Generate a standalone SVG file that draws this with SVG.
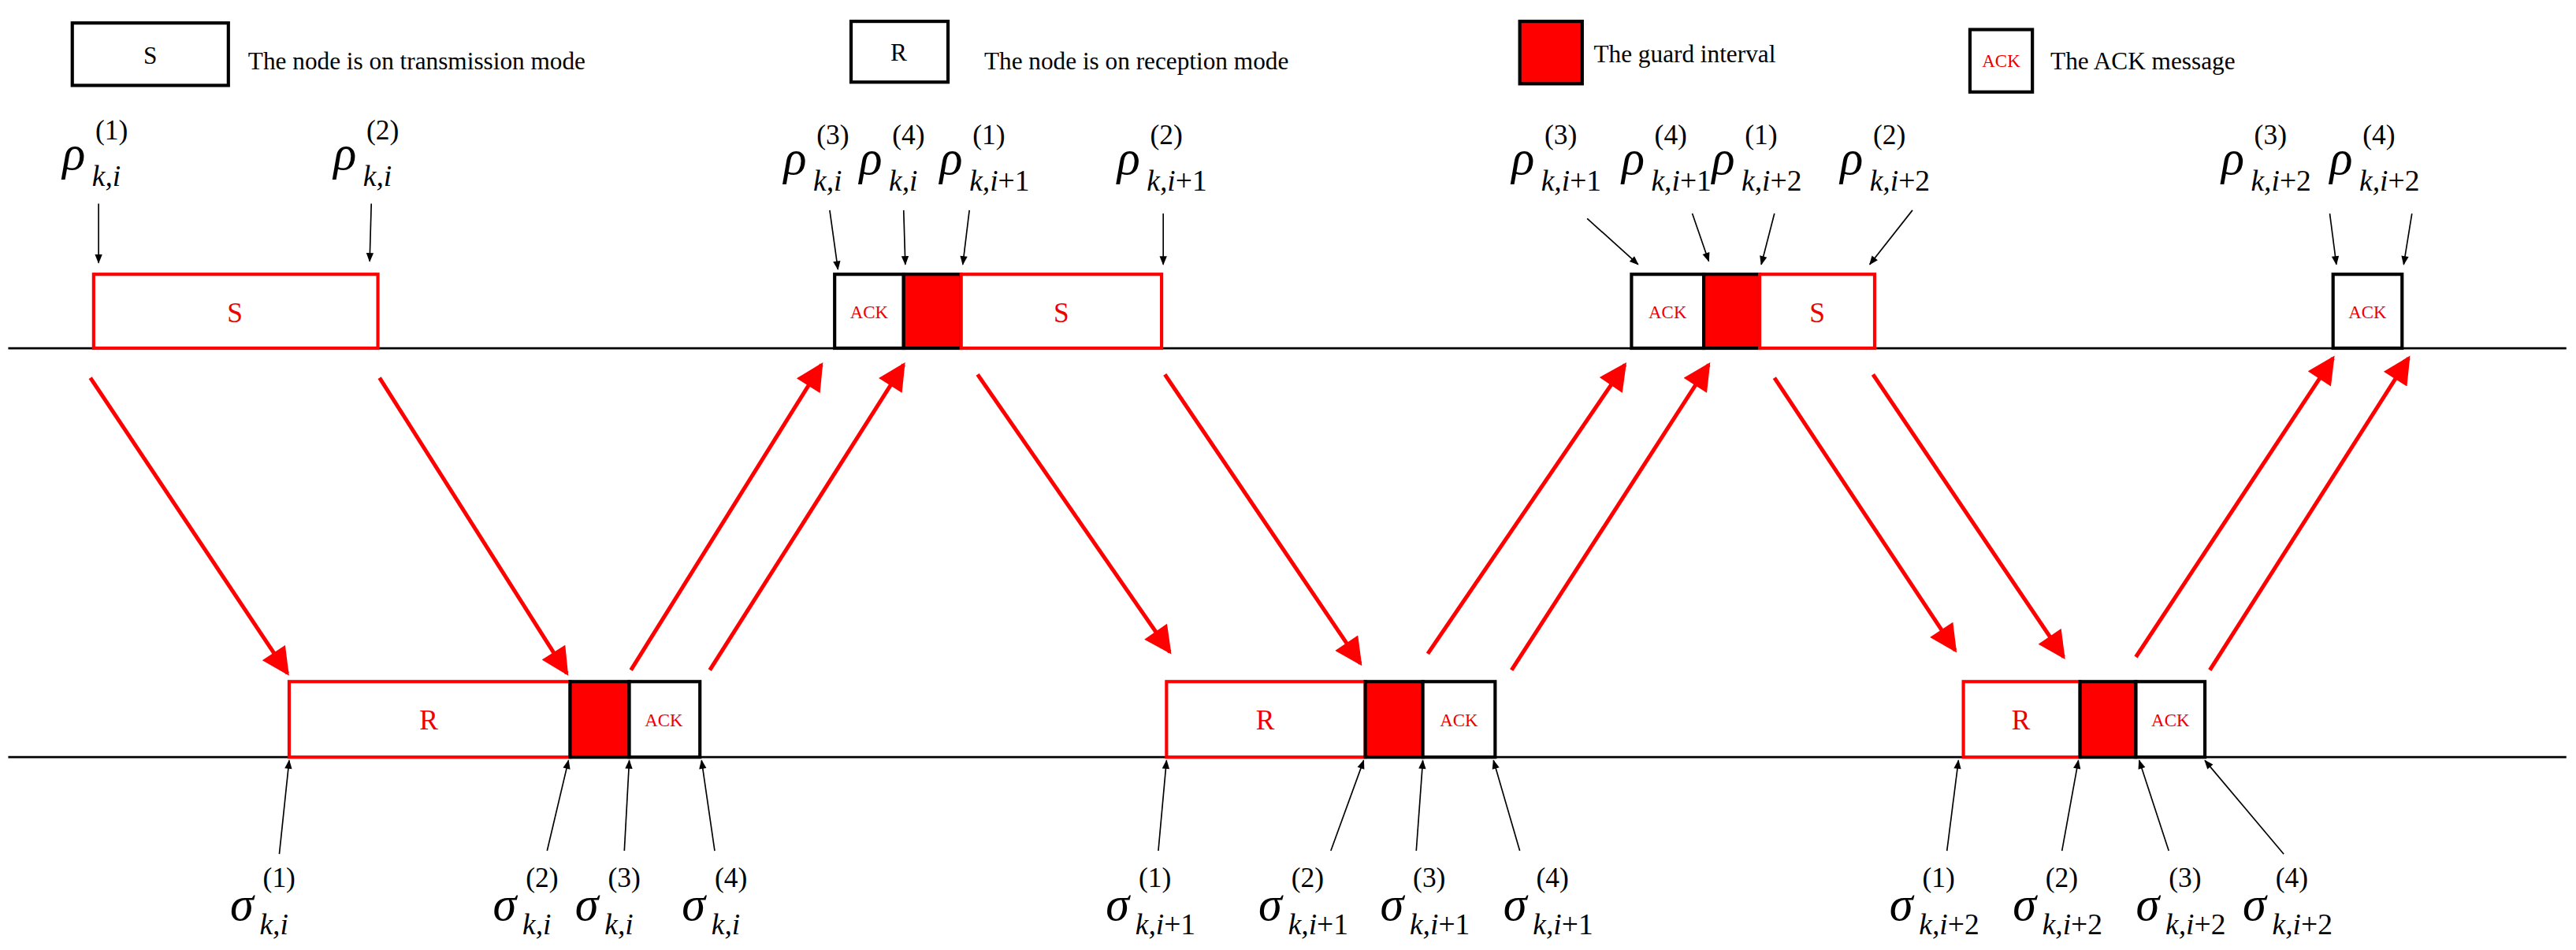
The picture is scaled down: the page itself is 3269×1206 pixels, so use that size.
<svg xmlns="http://www.w3.org/2000/svg" width="3269" height="1206" viewBox="0 0 3269 1206">
<style>
text{font-family:"Liberation Serif","Times New Roman",serif}
.lg{font-size:15px;fill:#000}
.bt{font-size:17px;fill:#e00;text-anchor:middle}
.ak{font-size:11px;fill:#e00;text-anchor:middle}
.gr{font-size:29px;font-style:italic}
.sp{font-size:17px}
.sb{font-size:18px;font-style:italic}
.n{font-style:normal}
.rb{fill:#fff;stroke:#f00;stroke-width:2}
.kb{fill:#fff;stroke:#000;stroke-width:2}
.gb{fill:#f00;stroke:#000;stroke-width:2}
.ra{stroke:#f00;stroke-width:2.4;fill:none;marker-end:url(#rh)}
.ka{stroke:#000;stroke-width:0.8;fill:none;marker-end:url(#kh)}
</style>
<defs>
<marker id="rh" viewBox="0 0 10 10" refX="9" refY="5" markerWidth="8" markerHeight="7" orient="auto" markerUnits="strokeWidth"><path d="M0,0 L10,5 L0,10 z" fill="#f00"/></marker>
<marker id="kh" viewBox="0 0 10 10" refX="9" refY="5" markerWidth="8" markerHeight="7" orient="auto" markerUnits="strokeWidth"><path d="M0,1 L10,5 L0,9 z" fill="#000"/></marker>
</defs>
<rect width="3269" height="1206" fill="#fff"/>
<g transform="scale(2.085)">
<g id="legend">
<rect class="kb" x="44" y="14" width="95" height="38"/><text class="lg" x="91.5" y="39" text-anchor="middle" font-size="17">S</text>
<text class="lg" x="151" y="42">The node is on transmission mode</text>
<rect class="kb" x="518" y="13" width="59" height="37"/><text class="lg" x="547" y="37" text-anchor="middle" font-size="17">R</text>
<text class="lg" x="599" y="42">The node is on reception mode</text>
<rect class="gb" x="925" y="13" width="38" height="38"/>
<text class="lg" x="970" y="38">The guard interval</text>
<rect class="kb" x="1199" y="18" width="38" height="38"/><text class="ak" x="1218" y="41" font-size="10">ACK</text>
<text class="lg" x="1248" y="42">The ACK  message</text>
</g>
<g id="timelines" stroke="#000" stroke-width="1.3">
<line x1="5" y1="212" x2="1562" y2="212"/>
<line x1="5" y1="461" x2="1562" y2="461"/>
</g>
<g id="top-blocks">
<rect class="rb" x="57" y="167" width="173" height="45"/><text class="bt" x="143" y="196">S</text>
<rect class="kb" x="508" y="167" width="42" height="45"/><text class="ak" x="529" y="194">ACK</text>
<rect class="gb" x="550" y="167" width="35" height="45"/>
<rect class="rb" x="585" y="167" width="122" height="45"/><text class="bt" x="646" y="196">S</text>
<rect class="kb" x="993" y="167" width="44" height="45"/><text class="ak" x="1015" y="194">ACK</text>
<rect class="gb" x="1037" y="167" width="34" height="45"/>
<rect class="rb" x="1071" y="167" width="70" height="45"/><text class="bt" x="1106" y="196">S</text>
<rect class="kb" x="1420" y="167" width="42" height="45"/><text class="ak" x="1441" y="194">ACK</text>
</g>
<g id="bottom-blocks">
<rect class="rb" x="176" y="415" width="171" height="46"/><text class="bt" x="261" y="444">R</text>
<rect class="gb" x="347" y="415" width="36" height="46"/>
<rect class="kb" x="383" y="415" width="43" height="46"/><text class="ak" x="404" y="442">ACK</text>
<rect class="rb" x="710" y="415" width="121" height="46"/><text class="bt" x="770" y="444">R</text>
<rect class="gb" x="831" y="415" width="35" height="46"/>
<rect class="kb" x="866" y="415" width="44" height="46"/><text class="ak" x="888" y="442">ACK</text>
<rect class="rb" x="1195" y="415" width="71" height="46"/><text class="bt" x="1230" y="444">R</text>
<rect class="gb" x="1266" y="415" width="34" height="46"/>
<rect class="kb" x="1300" y="415" width="42" height="46"/><text class="ak" x="1321" y="442">ACK</text>
</g>
<g id="connectors">
<line class="ra" x1="55" y1="230" x2="175" y2="410"/>
<line class="ra" x1="231" y1="230" x2="345" y2="410"/>
<line class="ra" x1="384" y1="408" x2="500" y2="222"/>
<line class="ra" x1="432" y1="408" x2="550" y2="222"/>
<line class="ra" x1="595" y1="228" x2="712" y2="397"/>
<line class="ra" x1="709" y1="228" x2="828" y2="404"/>
<line class="ra" x1="869" y1="398" x2="989" y2="222"/>
<line class="ra" x1="920" y1="408" x2="1040" y2="222"/>
<line class="ra" x1="1080" y1="230" x2="1190" y2="396"/>
<line class="ra" x1="1140" y1="228" x2="1256" y2="400"/>
<line class="ra" x1="1300" y1="400" x2="1420" y2="218"/>
<line class="ra" x1="1345" y1="408" x2="1466" y2="218"/>
<line class="ka" x1="60" y1="124" x2="60" y2="160"/>
<line class="ka" x1="226" y1="124" x2="225" y2="159"/>
<line class="ka" x1="505" y1="128" x2="510" y2="164"/>
<line class="ka" x1="550" y1="128" x2="551" y2="161"/>
<line class="ka" x1="590" y1="128" x2="586" y2="161"/>
<line class="ka" x1="708" y1="130" x2="708" y2="161"/>
<line class="ka" x1="966" y1="133" x2="997" y2="161"/>
<line class="ka" x1="1030" y1="130" x2="1040" y2="159"/>
<line class="ka" x1="1080" y1="130" x2="1072" y2="161"/>
<line class="ka" x1="1164" y1="128" x2="1138" y2="161"/>
<line class="ka" x1="1418" y1="130" x2="1422" y2="161"/>
<line class="ka" x1="1468" y1="130" x2="1463" y2="161"/>
<line class="ka" x1="170" y1="520" x2="176" y2="463"/>
<line class="ka" x1="333" y1="518" x2="346" y2="463"/>
<line class="ka" x1="380" y1="518" x2="383" y2="463"/>
<line class="ka" x1="435" y1="518" x2="427" y2="463"/>
<line class="ka" x1="705" y1="518" x2="710" y2="463"/>
<line class="ka" x1="810" y1="518" x2="830" y2="463"/>
<line class="ka" x1="862" y1="518" x2="866" y2="463"/>
<line class="ka" x1="925" y1="518" x2="909" y2="463"/>
<line class="ka" x1="1185" y1="518" x2="1192" y2="463"/>
<line class="ka" x1="1255" y1="518" x2="1265" y2="463"/>
<line class="ka" x1="1320" y1="518" x2="1302" y2="463"/>
<line class="ka" x1="1390" y1="520" x2="1342" y2="463"/>
</g>
<g id="rho-labels">
<text class="gr" x="38" y="103">ρ</text><text class="sp" x="58" y="85">(1)</text><text class="sb" x="56" y="113">k,i</text>
<text class="gr" x="203" y="103">ρ</text><text class="sp" x="223" y="85">(2)</text><text class="sb" x="221" y="113">k,i</text>
<text class="gr" x="477" y="106">ρ</text><text class="sp" x="497" y="88">(3)</text><text class="sb" x="495" y="116">k,i</text>
<text class="gr" x="523" y="106">ρ</text><text class="sp" x="543" y="88">(4)</text><text class="sb" x="541" y="116">k,i</text>
<text class="gr" x="572" y="106">ρ</text><text class="sp" x="592" y="88">(1)</text><text class="sb" x="590" y="116">k,i<tspan class="n">+1</tspan></text>
<text class="gr" x="680" y="106">ρ</text><text class="sp" x="700" y="88">(2)</text><text class="sb" x="698" y="116">k,i<tspan class="n">+1</tspan></text>
<text class="gr" x="920" y="106">ρ</text><text class="sp" x="940" y="88">(3)</text><text class="sb" x="938" y="116">k,i<tspan class="n">+1</tspan></text>
<text class="gr" x="987" y="106">ρ</text><text class="sp" x="1007" y="88">(4)</text><text class="sb" x="1005" y="116">k,i<tspan class="n">+1</tspan></text>
<text class="gr" x="1042" y="106">ρ</text><text class="sp" x="1062" y="88">(1)</text><text class="sb" x="1060" y="116">k,i<tspan class="n">+2</tspan></text>
<text class="gr" x="1120" y="106">ρ</text><text class="sp" x="1140" y="88">(2)</text><text class="sb" x="1138" y="116">k,i<tspan class="n">+2</tspan></text>
<text class="gr" x="1352" y="106">ρ</text><text class="sp" x="1372" y="88">(3)</text><text class="sb" x="1370" y="116">k,i<tspan class="n">+2</tspan></text>
<text class="gr" x="1418" y="106">ρ</text><text class="sp" x="1438" y="88">(4)</text><text class="sb" x="1436" y="116">k,i<tspan class="n">+2</tspan></text>
</g>
<g id="sigma-labels">
<text class="gr" x="140" y="560">σ</text><text class="sp" x="160" y="540">(1)</text><text class="sb" x="158" y="569">k,i</text>
<text class="gr" x="300" y="560">σ</text><text class="sp" x="320" y="540">(2)</text><text class="sb" x="318" y="569">k,i</text>
<text class="gr" x="350" y="560">σ</text><text class="sp" x="370" y="540">(3)</text><text class="sb" x="368" y="569">k,i</text>
<text class="gr" x="415" y="560">σ</text><text class="sp" x="435" y="540">(4)</text><text class="sb" x="433" y="569">k,i</text>
<text class="gr" x="673" y="560">σ</text><text class="sp" x="693" y="540">(1)</text><text class="sb" x="691" y="569">k,i<tspan class="n">+1</tspan></text>
<text class="gr" x="766" y="560">σ</text><text class="sp" x="786" y="540">(2)</text><text class="sb" x="784" y="569">k,i<tspan class="n">+1</tspan></text>
<text class="gr" x="840" y="560">σ</text><text class="sp" x="860" y="540">(3)</text><text class="sb" x="858" y="569">k,i<tspan class="n">+1</tspan></text>
<text class="gr" x="915" y="560">σ</text><text class="sp" x="935" y="540">(4)</text><text class="sb" x="933" y="569">k,i<tspan class="n">+1</tspan></text>
<text class="gr" x="1150" y="560">σ</text><text class="sp" x="1170" y="540">(1)</text><text class="sb" x="1168" y="569">k,i<tspan class="n">+2</tspan></text>
<text class="gr" x="1225" y="560">σ</text><text class="sp" x="1245" y="540">(2)</text><text class="sb" x="1243" y="569">k,i<tspan class="n">+2</tspan></text>
<text class="gr" x="1300" y="560">σ</text><text class="sp" x="1320" y="540">(3)</text><text class="sb" x="1318" y="569">k,i<tspan class="n">+2</tspan></text>
<text class="gr" x="1365" y="560">σ</text><text class="sp" x="1385" y="540">(4)</text><text class="sb" x="1383" y="569">k,i<tspan class="n">+2</tspan></text>
</g>
</g>
</svg>
